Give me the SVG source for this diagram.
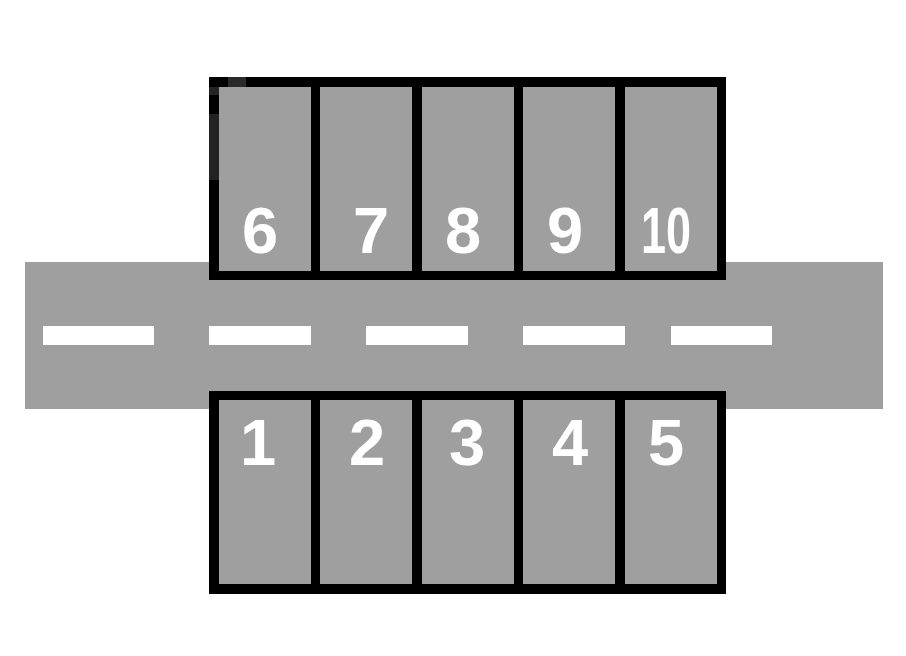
<svg xmlns="http://www.w3.org/2000/svg" width="906" height="656" viewBox="0 0 906 656">
<style>
.road{fill:#9f9f9f}
.dash{fill:#ffffff}
.frame{fill:#000000}
.bay{fill:#9f9f9f}
.num{fill:#ffffff;font-family:"Liberation Sans",Arial,sans-serif;font-weight:bold;font-size:65px;text-anchor:middle}
</style>
<rect width="906" height="656" fill="#ffffff"/>
<g id="road">
<rect class="road" x="25" y="262" width="858" height="147"/>
<rect class="dash" x="43" y="326" width="111" height="19"/>
<rect class="dash" x="209" y="326" width="102" height="19"/>
<rect class="dash" x="366" y="326" width="102" height="19"/>
<rect class="dash" x="523" y="326" width="102" height="19"/>
<rect class="dash" x="671" y="326" width="101" height="19"/>
</g>
<g id="top-lot">
<rect class="frame" x="209" y="77" width="517" height="203"/>
<rect fill="#2a2a2a" x="228" y="77" width="18" height="10"/>
<rect fill="#232323" x="209" y="87" width="10" height="8"/>
<rect fill="#232323" x="209" y="114" width="10" height="66"/>
<rect fill="#a6a6a6" x="255" y="105" width="10" height="10"/>
<g id="bay-6"><rect class="bay" x="219" y="87" width="92" height="184"/><text class="num" x="260" y="253">6</text></g>
<g id="bay-7"><rect class="bay" x="320" y="87" width="92" height="184"/><text class="num" x="371" y="253">7</text></g>
<g id="bay-8"><rect class="bay" x="422" y="87" width="92" height="184"/><text class="num" x="463" y="253">8</text></g>
<g id="bay-9"><rect class="bay" x="523" y="87" width="92" height="184"/><text class="num" x="565" y="253">9</text></g>
<g id="bay-10"><rect class="bay" x="625" y="87" width="92" height="184"/><text class="num" x="641" y="253" text-anchor="start" textLength="50" lengthAdjust="spacingAndGlyphs" style="text-anchor:start">10</text></g>
</g>
<g id="bottom-lot">
<rect class="frame" x="209" y="391" width="517" height="203"/>
<g id="bay-1"><rect class="bay" x="219" y="400" width="92" height="184"/><text class="num" x="258" y="465">1</text></g>
<g id="bay-2"><rect class="bay" x="320" y="400" width="92" height="184"/><text class="num" x="367" y="465">2</text></g>
<g id="bay-3"><rect class="bay" x="422" y="400" width="92" height="184"/><text class="num" x="467" y="465">3</text></g>
<g id="bay-4"><rect class="bay" x="523" y="400" width="92" height="184"/><text class="num" x="570" y="465">4</text></g>
<g id="bay-5"><rect class="bay" x="625" y="400" width="92" height="184"/><text class="num" x="666" y="465">5</text></g>
</g>
</svg>
